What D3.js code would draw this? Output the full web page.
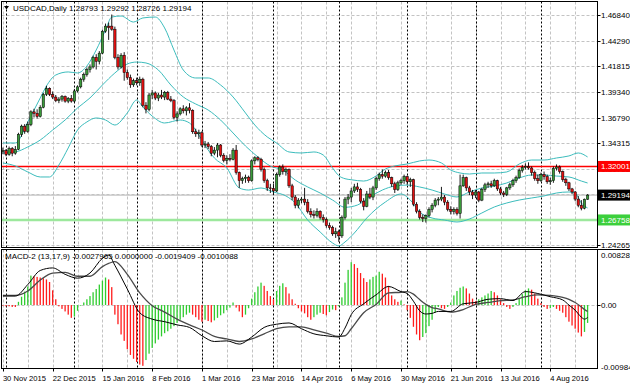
<!DOCTYPE html>
<html><head><meta charset="utf-8">
<script src="https://cdn.jsdelivr.net/npm/d3@7"></script>
<style>
html,body{margin:0;padding:0;background:#fff;}
svg{display:block;font-family:"Liberation Sans",Arial,sans-serif;}
</style></head><body>
<svg id="c" width="630" height="388"></svg>
<script>
// ---------- DATA ----------
const symbolTitle = "USDCAD,Daily";
const lastQuote = ["1.28793","1.29292","1.28726","1.29194"];
const macdTitle = "MACD-2 (13,17,9) -0.0027965 0.0000000 -0.0019409 -0.0010088";

const opens = [
1.3350,1.3355,1.3318,1.3375,1.3330,1.3368,1.3515,1.3595,1.3545,1.3610,
1.3735,1.3720,1.3690,1.3780,1.3905,1.3965,1.3905,1.3880,1.3845,1.3860,
1.3885,1.3840,1.3868,1.3840,1.3940,1.3980,1.4055,1.4100,1.4150,1.4175,
1.4270,1.4230,1.4310,1.4525,1.4575,1.4575,1.4545,1.4270,1.4175,1.4290,
1.4120,1.4070,1.4000,1.4040,1.4020,1.4055,1.3800,1.3760,1.3900,1.3920,
1.3870,1.3900,1.3880,1.3925,1.3860,1.3845,1.3680,1.3715,1.3765,1.3745,
1.3775,1.3750,1.3540,1.3520,1.3530,1.3410,1.3420,1.3395,1.3330,1.3360,
1.3410,1.3310,1.3260,1.3280,1.3270,1.3360,1.3140,1.3060,1.3080,1.3095,
1.3060,1.3255,1.3285,1.3270,1.3170,1.3060,1.2990,1.2985,1.2960,1.3120,
1.3195,1.3150,1.3170,1.3010,1.2900,1.2820,1.2870,1.2880,1.2850,1.2760,
1.2730,1.2720,1.2760,1.2700,1.2680,1.2620,1.2600,1.2540,1.2560,1.2520,
1.2700,1.2880,1.2900,1.2960,1.3000,1.2975,1.2860,1.2810,1.2930,1.2900,
1.2990,1.3080,1.3120,1.3105,1.3140,1.3090,1.3030,1.2975,1.3040,1.3060,
1.3100,1.3050,1.3070,1.2830,1.2760,1.2700,1.2690,1.2720,1.2780,1.2820,
1.2870,1.2880,1.2900,1.2850,1.2780,1.2760,1.2780,1.2740,1.3010,1.3090,
1.2990,1.2950,1.2920,1.2950,1.2870,1.2975,1.3020,1.3030,1.3010,1.3060,
1.2980,1.2940,1.2925,1.2990,1.3020,1.3060,1.3090,1.3160,1.3190,1.3200,
1.3185,1.3140,1.3080,1.3060,1.3120,1.3100,1.3050,1.3060,1.3180,1.3195,
1.3150,1.3070,1.3040,1.2980,1.2950,1.2880,1.2820,1.2790,1.28793];

const highs = [
1.3385,1.3370,1.3395,1.3390,1.3400,1.3530,1.3610,1.3615,1.3640,1.3750,
1.3765,1.3760,1.3800,1.3920,1.3990,1.3975,1.3935,1.3900,1.3880,1.3900,
1.3895,1.3880,1.3900,1.3960,1.3995,1.4070,1.4120,1.4170,1.4200,1.4285,
1.4300,1.4330,1.4540,1.4600,1.4610,1.4689,1.4570,1.4300,1.4310,1.4320,
1.4150,1.4100,1.4060,1.4070,1.4080,1.4070,1.3830,1.3920,1.3950,1.3935,
1.3920,1.3950,1.3940,1.3940,1.3890,1.3860,1.3740,1.3780,1.3800,1.3790,
1.3820,1.3760,1.3570,1.3560,1.3545,1.3450,1.3440,1.3410,1.3390,1.3430,
1.3420,1.3330,1.3310,1.3320,1.3380,1.3410,1.3150,1.3100,1.3120,1.3110,
1.3270,1.3300,1.3300,1.3285,1.3190,1.3080,1.3030,1.3030,1.3140,1.3210,
1.3220,1.3190,1.3180,1.3030,1.2920,1.2890,1.2900,1.2990,1.2880,1.2790,
1.2770,1.2790,1.2770,1.2730,1.2700,1.2650,1.2620,1.2600,1.2580,1.2720,
1.2900,1.2930,1.2990,1.3030,1.3040,1.2990,1.2890,1.2960,1.2990,1.3010,
1.3100,1.3140,1.3170,1.3160,1.3165,1.3100,1.3050,1.3060,1.3080,1.3120,
1.3110,1.3090,1.3080,1.2850,1.2780,1.2730,1.2730,1.2800,1.2840,1.2890,
1.2900,1.3000,1.2920,1.2870,1.2810,1.2800,1.2800,1.3120,1.3120,1.3100,
1.3010,1.2970,1.2970,1.2960,1.2990,1.3040,1.3050,1.3060,1.3080,1.3070,
1.3000,1.2960,1.3000,1.3040,1.3080,1.3110,1.3180,1.3215,1.3230,1.3240,
1.3200,1.3160,1.3120,1.3140,1.3150,1.3120,1.3090,1.3200,1.3220,1.3210,
1.3160,1.3090,1.3050,1.2990,1.2960,1.2910,1.2870,1.2885,1.29292];

const lows = [
1.3320,1.3300,1.3305,1.3300,1.3315,1.3360,1.3490,1.3520,1.3530,1.3595,
1.3680,1.3670,1.3680,1.3770,1.3890,1.3890,1.3860,1.3830,1.3820,1.3835,
1.3825,1.3820,1.3825,1.3830,1.3925,1.3965,1.4030,1.4080,1.4120,1.4160,
1.4150,1.4200,1.4300,1.4510,1.4440,1.4530,1.4250,1.4150,1.4160,1.4040,
1.4050,1.3970,1.3980,1.3995,1.3990,1.3780,1.3720,1.3740,1.3860,1.3850,
1.3840,1.3860,1.3850,1.3850,1.3830,1.3660,1.3640,1.3700,1.3720,1.3700,
1.3720,1.3520,1.3490,1.3470,1.3390,1.3380,1.3370,1.3300,1.3310,1.3290,
1.3290,1.3240,1.3220,1.3250,1.3260,1.3120,1.2990,1.3030,1.3040,1.3040,
1.3050,1.3220,1.3250,1.3150,1.3040,1.2960,1.2940,1.2920,1.2950,1.3100,
1.3120,1.3110,1.2990,1.2870,1.2790,1.2790,1.2840,1.2820,1.2740,1.2700,
1.2690,1.2700,1.2680,1.2650,1.2600,1.2580,1.2520,1.2500,1.2461,1.2500,
1.2680,1.2830,1.2850,1.2940,1.2950,1.2840,1.2770,1.2800,1.2880,1.2870,
1.2970,1.3060,1.3080,1.3090,1.3070,1.3000,1.2940,1.2960,1.3020,1.3030,
1.3020,1.3000,1.2810,1.2740,1.2680,1.2655,1.2650,1.2700,1.2750,1.2800,
1.2820,1.2860,1.2820,1.2760,1.2730,1.2730,1.2720,1.2690,1.3000,1.2960,
1.2920,1.2880,1.2890,1.2850,1.2860,1.2950,1.2990,1.2990,1.3000,1.2960,
1.2920,1.2900,1.2910,1.2970,1.3000,1.3040,1.3080,1.3140,1.3170,1.3170,
1.3110,1.3060,1.3030,1.3050,1.3070,1.3030,1.3020,1.3040,1.3160,1.3130,
1.3050,1.3010,1.2960,1.2930,1.2860,1.2800,1.2770,1.2780,1.28726];

const closes = [
1.3355,1.3318,1.3375,1.3330,1.3368,1.3515,1.3595,1.3545,1.3610,1.3735,
1.3720,1.3690,1.3780,1.3905,1.3965,1.3905,1.3880,1.3845,1.3860,1.3885,
1.3840,1.3868,1.3840,1.3940,1.3980,1.4055,1.4100,1.4150,1.4175,1.4270,
1.4230,1.4310,1.4525,1.4575,1.4560,1.4545,1.4270,1.4175,1.4290,1.4120,
1.4070,1.4000,1.4040,1.4020,1.4055,1.3800,1.3760,1.3900,1.3920,1.3870,
1.3900,1.3880,1.3925,1.3860,1.3845,1.3680,1.3715,1.3765,1.3745,1.3775,
1.3750,1.3540,1.3520,1.3530,1.3410,1.3420,1.3395,1.3330,1.3360,1.3410,
1.3310,1.3260,1.3280,1.3270,1.3360,1.3140,1.3060,1.3080,1.3095,1.3060,
1.3255,1.3285,1.3270,1.3170,1.3060,1.2990,1.2985,1.2960,1.3120,1.3195,
1.3150,1.3170,1.3010,1.2900,1.2820,1.2870,1.2880,1.2850,1.2760,1.2730,
1.2720,1.2760,1.2700,1.2680,1.2620,1.2600,1.2540,1.2560,1.2520,1.2700,
1.2880,1.2900,1.2960,1.3000,1.2975,1.2860,1.2810,1.2930,1.2900,1.2990,
1.3080,1.3120,1.3105,1.3140,1.3090,1.3030,1.2975,1.3040,1.3060,1.3100,
1.3050,1.3070,1.2830,1.2760,1.2700,1.2690,1.2720,1.2780,1.2820,1.2870,
1.2880,1.2900,1.2850,1.2780,1.2760,1.2780,1.2740,1.3010,1.3090,1.2990,
1.2950,1.2920,1.2950,1.2870,1.2975,1.3020,1.3030,1.3010,1.3060,1.2980,
1.2940,1.2925,1.2990,1.3020,1.3060,1.3090,1.3160,1.3190,1.3200,1.3185,
1.3140,1.3080,1.3060,1.3120,1.3100,1.3050,1.3060,1.3180,1.3195,1.3150,
1.3070,1.3040,1.2980,1.2950,1.2880,1.2820,1.2790,1.28793,1.29194];

// Bollinger bands (bar index, price)
const upperBars = [0,4,8,12,14,17,21,24,27,30,33,35,38,42,45,49,52,55,58,62,66,70,74,78,81,85,88,92,96,100,103,106,108,110,112,116,120,123,126,130,134,137,141,144,147,150,154,158,162,166,170,174,178,182,185,188];
const upperVals = [1.3430,1.3430,1.3636,1.3871,1.3988,1.4096,1.4126,1.4116,1.4184,1.4341,1.4537,1.4664,1.4674,1.4615,1.4655,1.4664,1.4557,1.4341,1.4145,1.4067,1.4067,1.3998,1.3881,1.3724,1.3606,1.3489,1.3430,1.3342,1.3332,1.3342,1.3312,1.3185,1.3110,1.3080,1.3070,1.3057,1.3107,1.3175,1.3205,1.3224,1.3254,1.3263,1.3234,1.3165,1.3136,1.3126,1.3136,1.3136,1.3146,1.3224,1.3263,1.3263,1.3283,1.3303,1.3332,1.3293];
const midBars = [0,4,8,12,16,20,24,28,32,36,40,43,46,50,54,58,62,66,70,74,78,82,86,90,94,98,102,106,110,114,118,122,126,130,134,138,142,146,150,154,158,162,166,170,174,178,182,186,188];
const midVals = [1.3332,1.3342,1.3391,1.3459,1.3557,1.3655,1.3773,1.3871,1.3998,1.4116,1.4204,1.4223,1.4214,1.4145,1.3998,1.3881,1.3812,1.3753,1.3655,1.3528,1.3400,1.3293,1.3204,1.3165,1.3067,1.2999,1.2940,1.2871,1.2800,1.2822,1.2901,1.2969,1.3008,1.3018,1.2999,1.2969,1.2930,1.2901,1.2950,1.2989,1.3008,1.3038,1.3087,1.3116,1.3116,1.3106,1.3097,1.3057,1.3038];
const lowerBars = [0,4,8,12,15,18,21,24,27,30,33,36,40,43,45,48,52,57,60,63,66,68,72,76,79,83,87,91,94,98,102,106,108,110,113,117,123,128,131,134,138,142,146,150,154,158,162,166,170,174,178,182,184,186,188];
const lowerVals = [1.3234,1.3205,1.3146,1.3097,1.3097,1.3214,1.3381,1.3557,1.3636,1.3675,1.3655,1.3606,1.3724,1.3851,1.3783,1.3694,1.3626,1.3655,1.3626,1.3508,1.3361,1.3283,1.3185,1.2989,1.2969,1.2989,1.2950,1.2911,1.2842,1.2675,1.2558,1.2450,1.2421,1.2460,1.2548,1.2695,1.2852,1.2930,1.2871,1.2754,1.2695,1.2675,1.2656,1.2685,1.2744,1.2803,1.2842,1.2871,1.2891,1.2911,1.2940,1.2950,1.2940,1.2842,1.2793];

// MACD-2 panel
const macdHist = [
-0.0001,-0.0002,-0.0002,-0.0003,-0.0003,0.0005,0.0013,0.0021,0.0029,0.0046,
0.0045,0.0044,0.0043,0.0042,0.0040,0.0036,0.0023,0.0009,-0.0002,-0.0006,
-0.0010,-0.0015,-0.0020,-0.0018,-0.0009,-0.0001,0.0004,0.0009,0.0014,0.0020,
0.0025,0.0032,0.0038,0.0043,0.0040,0.0028,-0.0015,-0.0030,-0.0046,-0.0056,
-0.0069,-0.0078,-0.0084,-0.0089,-0.0093,-0.0095,-0.0086,-0.0076,-0.0067,-0.0060,
-0.0054,-0.0049,-0.0044,-0.0041,-0.0037,-0.0033,-0.0028,-0.0023,-0.0019,-0.0015,
-0.0012,-0.0015,-0.0019,-0.0023,-0.0026,-0.0023,-0.0025,-0.0027,-0.0024,-0.0020,
-0.0016,-0.0013,-0.0008,-0.0004,0.0004,-0.0004,-0.0010,-0.0019,-0.0015,-0.0005,
0.0010,0.0020,0.0029,0.0035,0.0030,0.0022,0.0014,0.0009,0.0022,0.0030,
0.0034,0.0028,0.0018,0.0009,0.0002,-0.0005,-0.0010,-0.0013,-0.0019,-0.0023,
-0.0019,-0.0015,-0.0012,-0.0014,-0.0016,-0.0011,-0.0007,-0.0008,-0.0002,0.0012,
0.0035,0.0055,0.0067,0.0064,0.0058,0.0050,0.0042,0.0036,0.0040,0.0044,
0.0046,0.0052,0.0049,0.0043,0.0030,0.0015,0.0009,0.0005,0.0007,0.0001,
-0.0008,-0.0020,-0.0034,-0.0046,-0.0055,-0.0050,-0.0044,-0.0033,-0.0023,-0.0012,
-0.0003,-0.0005,-0.0006,-0.0003,0.0004,0.0015,0.0022,0.0027,0.0029,0.0026,
0.0018,0.0010,0.0006,0.0009,0.0012,0.0015,0.0018,0.0022,0.0020,0.0015,
0.0009,0.0003,-0.0003,-0.0006,-0.0003,0.0003,0.0010,0.0017,0.0023,0.0026,
0.0024,0.0018,0.0010,0.0003,-0.0003,-0.0006,-0.0005,-0.0003,-0.0006,-0.0009,
-0.0012,-0.0019,-0.0026,-0.0032,-0.0037,-0.0043,-0.0049,-0.0042,-0.0027965];
const macdBars = [0,4,8,12,16,20,24,28,32,34,36,40,44,48,52,56,60,64,68,72,76,80,84,88,92,96,100,104,108,110,112,116,120,124,128,130,132,134,136,138,140,144,148,152,156,160,164,168,172,176,180,182,184,186,187,188];
const macdLine = [0.0014,0.0014,0.0032,0.0054,0.0058,0.0048,0.0042,0.0050,0.0073,0.0078,0.0062,0.0025,-0.0012,-0.0022,-0.0026,-0.0031,-0.0035,-0.0048,-0.0057,-0.0056,-0.0061,-0.0050,-0.0035,-0.0030,-0.0028,-0.0037,-0.0045,-0.0048,-0.0050,-0.0036,-0.0015,0.0002,0.0016,0.0029,0.0021,0.0018,0.0006,-0.0009,-0.0014,-0.0013,-0.0010,-0.0010,0.0002,0.0004,0.0009,0.0010,0.0007,0.0021,0.0018,0.0013,0.0008,0.0000,-0.0008,-0.0019,-0.0022,-0.0019409];
const signalLine = [0.0015,0.0015,0.0022,0.0039,0.0050,0.0051,0.0045,0.0045,0.0060,0.0065,0.0068,0.0048,0.0019,-0.0001,-0.0011,-0.0022,-0.0031,-0.0039,-0.0049,-0.0053,-0.0057,-0.0053,-0.0045,-0.0037,-0.0034,-0.0034,-0.0039,-0.0044,-0.0049,-0.0048,-0.0037,-0.0012,0.0001,0.0019,0.0020,0.0021,0.0017,0.00085,0.0001,-0.0004,-0.0006,-0.0011,-0.0007,0.0001,0.0004,0.0007,0.0008,0.0013,0.0016,0.0015,0.0012,0.0009,0.0004,-0.0003,-0.0007,-0.0010088];

// axes
const priceTicks = [1.46840,1.44290,1.41815,1.39340,1.36790,1.34315,1.31765,1.29290,1.26740,1.24265];
const priceTickLabels = ["1.46840","1.44290","1.41815","1.39340","1.36790","1.34315","1.31765","1.29290","1.26740","1.24265"];
const dateTickBars = [0,16,32,48,64,80,96,112,128,144,160,176];
const dateTickLabels = ["30 Nov 2015","22 Dec 2015","15 Jan 2016","8 Feb 2016","1 Mar 2016","23 Mar 2016","14 Apr 2016","6 May 2016","30 May 2016","21 Jun 2016","13 Jul 2016","4 Aug 2016"];
const monthSepBars = [1,23,43,64,87,108,130,152,173];
const macdTicks = [0.008289,0,-0.009840];
const macdTickLabels = ["0.008289","0.00","-0.009840"];
const levels = [
  {v:1.32001, label:"1.32001", line:"#ff0000", w:1.6, bg:"#ff0000", fg:"#ffffff"},
  {v:1.26758, label:"1.26758", line:"#9de89d", w:2.6, bg:"#3ccf3c", fg:"#ffffff"},
  {v:1.29194, label:"1.29194", line:"#c4c4c4", w:1.4, bg:"#000000", fg:"#ffffff"}
];

// ---------- LAYOUT ----------
const L = 1.5, R = 597.5, mainT = 1.5, mainB = 247.5, macdT = 249.5, macdB = 368.5;
const nBars = closes.length;
const x = d3.scaleLinear().domain([0, 188]).range([2.9, 587.6]);
const y = d3.scaleLinear().domain([1.24265, 1.46840]).range([245.4, 15]);
const ym = d3.scaleLinear().domain([-0.009840, 0.008289]).range([368, 252]);

const svg = d3.select("#c");
svg.append("rect").attr("width",630).attr("height",388).attr("fill","#fff");
const defs = svg.append("defs");
defs.append("clipPath").attr("id","clipMain").append("rect").attr("x",L).attr("y",mainT).attr("width",R-L).attr("height",mainB-mainT);
defs.append("clipPath").attr("id","clipMacd").append("rect").attr("x",L).attr("y",macdT).attr("width",R-L).attr("height",macdB-macdT);

const gMain = svg.append("g").attr("clip-path","url(#clipMain)");
const gMacd = svg.append("g").attr("clip-path","url(#clipMacd)");

const gridColor = "#c3c3c3";
const gridBars = d3.range(0, nBars, 8);
[gMain, gMacd].forEach((g, k) => {
  const t = k===0 ? mainT : macdT, b = k===0 ? mainB : macdB;
  g.selectAll(null).data(gridBars).enter().append("line")
    .attr("x1", d=>Math.round(x(d))+0.5).attr("x2", d=>Math.round(x(d))+0.5)
    .attr("y1", t).attr("y2", b)
    .attr("stroke", gridColor).attr("stroke-width",1).attr("stroke-dasharray","3,2");
});
gMain.selectAll(null).data(priceTicks).enter().append("line")
  .attr("x1", L).attr("x2", R)
  .attr("y1", d=>Math.round(y(d))+0.5).attr("y2", d=>Math.round(y(d))+0.5)
  .attr("stroke", gridColor).attr("stroke-dasharray","3,2");
gMacd.append("line").attr("x1",L).attr("x2",R)
  .attr("y1", Math.round(ym(0))+0.5).attr("y2", Math.round(ym(0))+0.5)
  .attr("stroke", gridColor).attr("stroke-dasharray","3,2");
[gMain, gMacd].forEach((g, k) => {
  const t = k===0 ? mainT : macdT, b = k===0 ? mainB : macdB;
  g.selectAll(null).data(monthSepBars).enter().append("line")
    .attr("x1", d=>Math.round(x(d))+0.5).attr("x2", d=>Math.round(x(d))+0.5)
    .attr("y1", t).attr("y2", b)
    .attr("stroke", "#000").attr("stroke-width",1).attr("stroke-dasharray","2,2");
});

levels.forEach(l => {
  gMain.append("line").attr("x1",L).attr("x2",R)
    .attr("y1", y(l.v)).attr("y2", y(l.v))
    .attr("stroke", l.line).attr("stroke-width", l.w);
});

const bandColor = "#3cbcbc";
function band(bars, vals) {
  const pts = bars.map((b,i)=>[x(b), y(vals[i])]);
  gMain.append("path").attr("d", d3.line().curve(d3.curveMonotoneX)(pts))
    .attr("fill","none").attr("stroke", bandColor).attr("stroke-width",1);
}
band(upperBars, upperVals);
band(midBars, midVals);
band(lowerBars, lowerVals);

const bars = d3.range(nBars).map(i => ({i, o:opens[i], h:highs[i], l:lows[i], c:closes[i]}));
gMain.selectAll(null).data(bars).enter().append("line")
  .attr("x1", d=>x(d.i)).attr("x2", d=>x(d.i))
  .attr("y1", d=>y(d.h)).attr("y2", d=>y(d.l))
  .attr("stroke","#000").attr("stroke-width",0.9);
gMain.selectAll(null).data(bars).enter().append("rect")
  .attr("x", d=>x(d.i)-1.2).attr("width", 2.4)
  .attr("y", d=>y(Math.max(d.o,d.c)))
  .attr("height", d=>Math.max(0.8, Math.abs(y(d.o)-y(d.c))))
  .attr("fill", d=> d.c >= d.o ? "#3a9a3a" : "#e01010")
  .attr("stroke","#000").attr("stroke-width",0.5);

gMacd.selectAll(null).data(macdHist).enter().append("rect")
  .attr("x", (d,i)=>x(i)-0.65).attr("width", 1.3)
  .attr("y", d=>Math.min(ym(0), ym(d)))
  .attr("height", d=>Math.abs(ym(d)-ym(0)))
  .attr("fill", (d,i)=> (i>0 && d > macdHist[i-1]) ? "#2fcc2f" : "#ff1c1c");
const sigPts = macdBars.map((b,i)=>[x(b), ym(signalLine[i])]);
const macdPts = macdBars.map((b,i)=>[x(b), ym(macdLine[i])]);
gMacd.append("path").attr("d", d3.line().curve(d3.curveMonotoneX)(sigPts))
  .attr("fill","none").attr("stroke","#4a4a4a").attr("stroke-width",1.3);
gMacd.append("path").attr("d", d3.line().curve(d3.curveMonotoneX)(macdPts))
  .attr("fill","none").attr("stroke","#000").attr("stroke-width",1);

svg.append("rect").attr("x",L).attr("y",mainT).attr("width",R-L).attr("height",mainB-mainT)
  .attr("fill","none").attr("stroke","#000").attr("stroke-width",1);
svg.append("rect").attr("x",L).attr("y",macdT).attr("width",R-L).attr("height",macdB-macdT)
  .attr("fill","none").attr("stroke","#000").attr("stroke-width",1);
svg.append("line").attr("x1",R).attr("x2",630).attr("y1",macdT).attr("y2",macdT).attr("stroke","#000");

const fs = 8;
svg.selectAll(null).data(priceTicks).enter().append("line")
  .attr("x1",R).attr("x2",R+3).attr("y1",d=>Math.round(y(d))+0.5).attr("y2",d=>Math.round(y(d))+0.5)
  .attr("stroke","#000");
svg.selectAll(null).data(priceTicks).enter().append("text")
  .attr("x", 601).attr("y", d=>y(d)+3).attr("font-size",fs).attr("fill","#000")
  .text((d,i)=>priceTickLabels[i]);
levels.forEach(l => {
  const yy = y(l.v);
  svg.append("rect").attr("x",598).attr("y",yy-5.5).attr("width",32).attr("height",11).attr("fill",l.bg);
  svg.append("text").attr("x",601).attr("y",yy+3).attr("font-size",fs).attr("fill",l.fg).text(l.label);
});
svg.selectAll(null).data(macdTicks).enter().append("text")
  .attr("x", 601).attr("y", (d,i)=> i===0 ? 258 : (i===1 ? ym(d)+3 : 369.5))
  .attr("font-size",fs).attr("fill","#000").text((d,i)=>macdTickLabels[i]);
svg.append("line").attr("x1",R).attr("x2",R+3).attr("y1",Math.round(ym(0))+0.5).attr("y2",Math.round(ym(0))+0.5).attr("stroke","#000");

svg.selectAll(null).data(dateTickBars).enter().append("line")
  .attr("x1",d=>Math.round(x(d))+0.5).attr("x2",d=>Math.round(x(d))+0.5)
  .attr("y1",macdB).attr("y2",macdB+3).attr("stroke","#000");
svg.selectAll(null).data(dateTickBars).enter().append("text")
  .attr("x", d=>x(d)).attr("y", 381).attr("font-size",7.6).attr("fill","#000")
  .text((d,i)=>dateTickLabels[i]);

svg.append("path").attr("d","M4,6 L9,6 L6.5,9.5 Z").attr("fill","#000");
svg.append("text").attr("x",13).attr("y",11).attr("font-size",fs).attr("fill","#000")
  .text(symbolTitle + "  " + lastQuote.join(" "));
svg.append("text").attr("x",5).attr("y",259).attr("font-size",fs).attr("fill","#000").text(macdTitle);
</script>
</body></html>
